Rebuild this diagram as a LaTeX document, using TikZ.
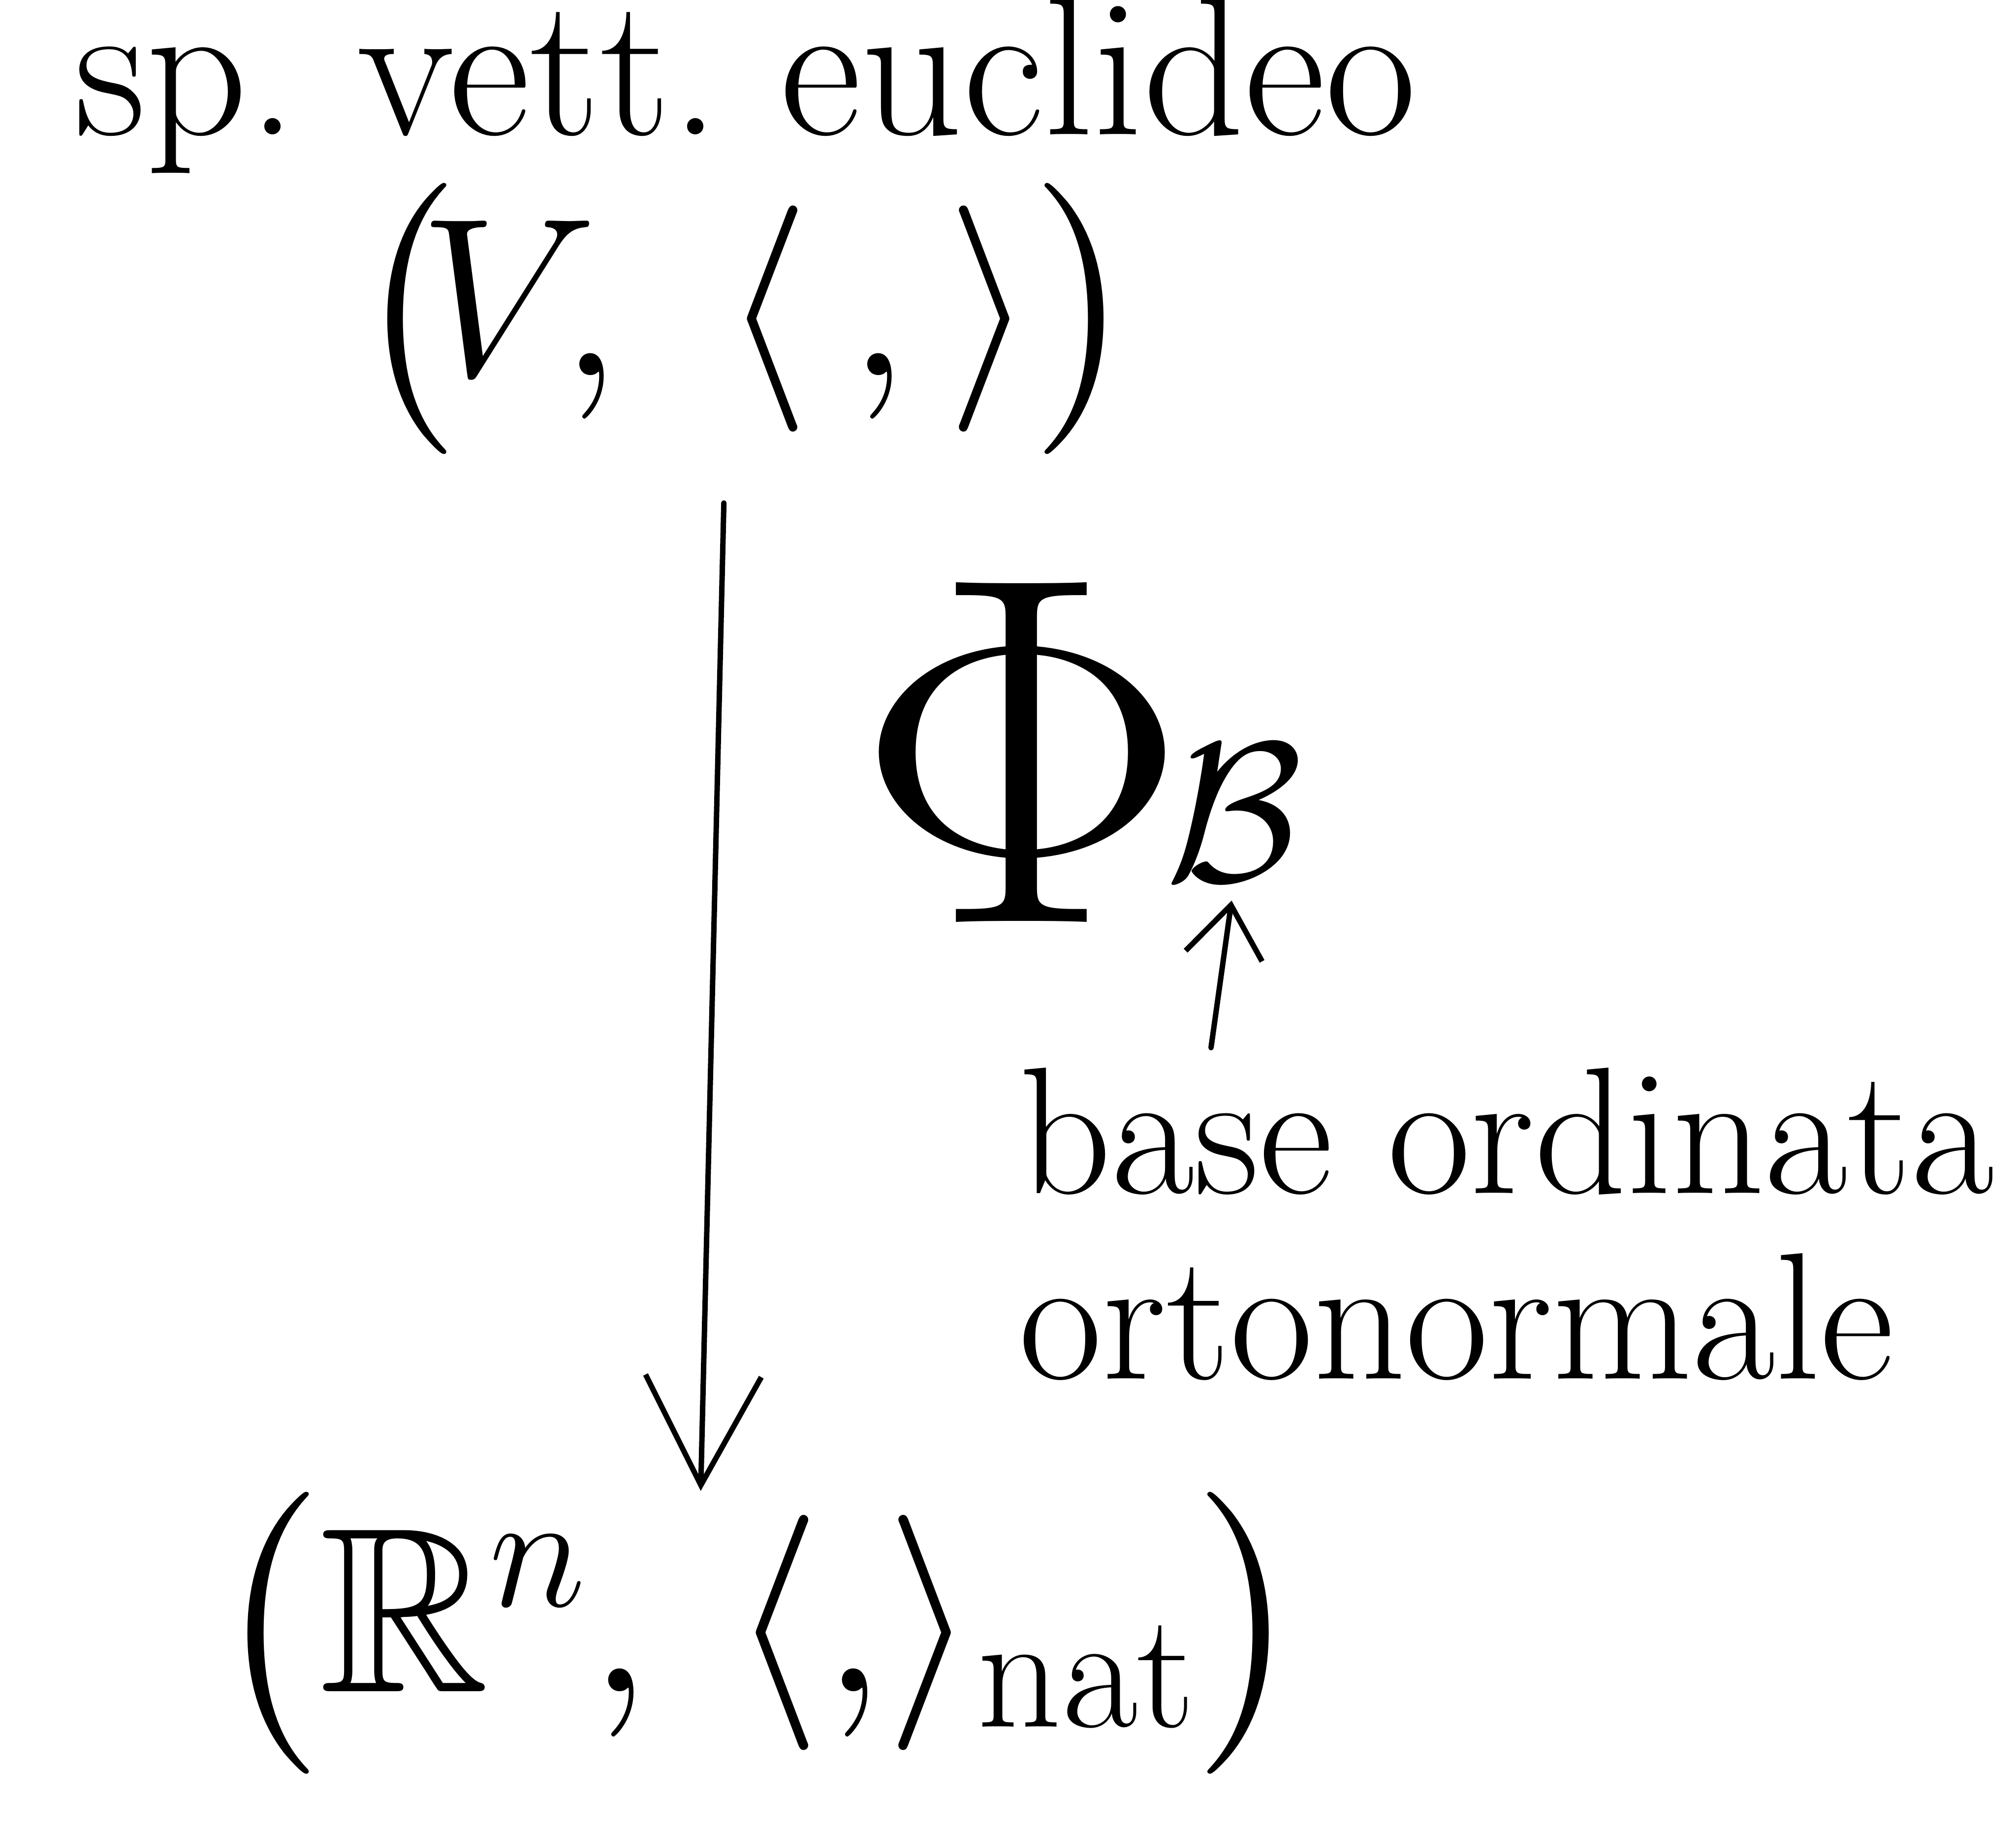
\RequirePackage{fix-cm}
\documentclass[tikz,border=0pt]{standalone}
\usepackage{amsmath,amssymb}
\usetikzlibrary{arrows.meta,calc}
\begin{document}
\begin{tikzpicture}[x=0.01cm,y=-0.01cm,
  lbl/.style={inner sep=0pt, font=\fontsize{40}{41}\selectfont},
  ttl/.style={inner sep=0pt, font=\fontsize{44}{50}\selectfont},
  mthtop/.style={inner sep=0pt, font=\fontsize{50}{60}\selectfont},
  mthbot/.style={inner sep=0pt, font=\fontsize{52}{66}\selectfont},
  conn/.style={line width=1.2pt, line cap=round, line join=round},
  ]
\useasboundingbox[fill=white] (0,0) rectangle (1568,1424);
\node[ttl] (title) at (580,66) {sp.\ vett.\ euclideo};
\node[mthtop] (V) at (580,248) {$\bigl(\!V,\;\langle\,,\rangle\bigr)$};
\node[mthbot] (R) at (590,1270) {$\bigl(\mathbb{R}^n,\,\langle{,}\rangle_{\mathrm{nat}}\bigr)$};
\node[inner sep=0pt, font=\fontsize{110}{120}\selectfont] (phi) at (795,585) {$\Phi$};
\node[inner sep=0pt, font=\fontsize{44}{50}\selectfont] (B) at (960,632) {$\mathcal{B}$};
\node[lbl, align=left] (base) at (1172,952) {base ordinata\\ortonormale};
\draw[conn, -{Straight Barb[length=0.85cm,width=0.9cm]}]
  ($(V.south)+(-17,37)$) -- ($(R.north)+(-45,0)$);
\draw[conn, -{Straight Barb[length=0.4cm,width=0.6cm]}, shorten >=0.15cm]
  ($(base.north west)+(150,-15)$) -- (B.south);
\end{tikzpicture}
\end{document}
